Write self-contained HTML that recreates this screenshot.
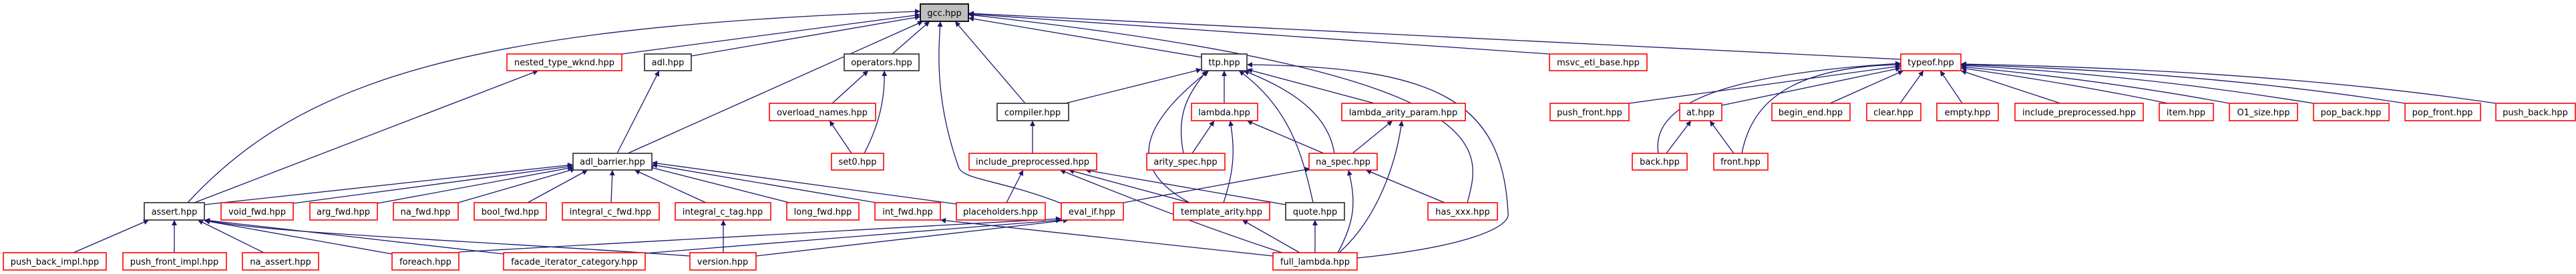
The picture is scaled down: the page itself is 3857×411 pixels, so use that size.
<!DOCTYPE html>
<html><head><meta charset="utf-8"><style>
html,body{margin:0;padding:0;background:#fff;}
svg{display:block;}
text{font-family:"DejaVu Sans","Liberation Sans",sans-serif;font-size:13px;fill:#000;}
.e{fill:none;stroke:#191970;stroke-width:1.3;}
.r{fill:#fff;stroke:#ff0000;stroke-width:1.6;}
.b{fill:#fff;stroke:#404040;stroke-width:1.8;}
</style></head><body>
<svg width="3857" height="411" viewBox="0 0 3857 411" xmlns="http://www.w3.org/2000/svg">
<defs><marker id="a" viewBox="0 0 10 10" refX="10" refY="5" markerWidth="10" markerHeight="8" markerUnits="userSpaceOnUse" orient="auto"><path d="M0,0 L10,5 L0,10 z" fill="#191970"/></marker></defs>
<g marker-end="url(#a)">
<path class="e" d="M281,304 C450,120 700,40 1378,17"/>
<path class="e" d="M291,304 L806,106"/>
<path class="e" d="M931,81 L1378,22"/>
<path class="e" d="M1035,84 L1378,25"/>
<path class="e" d="M940,230 L1382,32"/>
<path class="e" d="M1336,81 L1392,32"/>
<path class="e" d="M1589,305 C1500,270 1440,270 1435,250 C1400,150 1405,80 1408,32"/>
<path class="e" d="M1535,155 L1430,32"/>
<path class="e" d="M1800,86 L1450,27"/>
<path class="e" d="M2320,81 L1450,21"/>
<path class="e" d="M2846,89 L1450,20"/>
<path class="e" d="M2197,304 C2220,220 2250,110 1450,22"/>
<path class="e" d="M2032,387 C2200,370 2262,340 2258,320 C2250,150 2150,100 1867,97"/>
<path class="e" d="M1595,155 L1799,104"/>
<path class="e" d="M1833,155 L1833,106"/>
<path class="e" d="M1772,230 C1760,170 1780,140 1807,106"/>
<path class="e" d="M1781,304 C1700,260 1690,200 1810,106"/>
<path class="e" d="M1966,304 C1950,230 1930,160 1855,106"/>
<path class="e" d="M1998,230 C1990,180 1950,140 1862,106"/>
<path class="e" d="M2058,155 L1867,104"/>
<path class="e" d="M1246,155 L1300,106"/>
<path class="e" d="M1294,230 C1320,180 1325,140 1324,106"/>
<path class="e" d="M1275,230 L1242,181"/>
<path class="e" d="M1546,230 L1546,181"/>
<path class="e" d="M1507,304 L1532,255"/>
<path class="e" d="M1920,379 C1800,340 1700,300 1587,255"/>
<path class="e" d="M1781,304 L1600,255"/>
<path class="e" d="M1925,307 L1625,255"/>
<path class="e" d="M1785,230 L1818,181"/>
<path class="e" d="M1832,304 C1850,250 1848,220 1842,181"/>
<path class="e" d="M1982,230 L1867,181"/>
<path class="e" d="M2025,230 L2085,181"/>
<path class="e" d="M2005,379 C2060,330 2090,250 2099,181"/>
<path class="e" d="M1682,304 L1962,253"/>
<path class="e" d="M2003,379 C2030,330 2030,300 2019,255"/>
<path class="e" d="M2163,304 L2045,255"/>
<path class="e" d="M1946,379 L1860,330"/>
<path class="e" d="M1969,379 L1969,330"/>
<path class="e" d="M1906,384 L1408,330"/>
<path class="e" d="M924,230 L987,106"/>
<path class="e" d="M306,307 L858,247"/>
<path class="e" d="M439,305 L858,249"/>
<path class="e" d="M565,305 L858,251"/>
<path class="e" d="M686,304 L862,253"/>
<path class="e" d="M790,304 L880,255"/>
<path class="e" d="M915,304 L917,255"/>
<path class="e" d="M1057,304 L950,255"/>
<path class="e" d="M1182,304 L970,250"/>
<path class="e" d="M1312,304 L976,247"/>
<path class="e" d="M1432,306 L976,244"/>
<path class="e" d="M110,379 L223,330"/>
<path class="e" d="M261,379 L261,330"/>
<path class="e" d="M395,379 L296,330"/>
<path class="e" d="M587,381 L306,331"/>
<path class="e" d="M754,381 L306,330"/>
<path class="e" d="M1033,384 C700,360 400,350 306,330"/>
<path class="e" d="M687,378 L1589,328"/>
<path class="e" d="M966,380 L1589,330"/>
<path class="e" d="M1132,384 L1600,330"/>
<path class="e" d="M1083,379 L1083,330"/>
<path class="e" d="M2439,155 L2846,99"/>
<path class="e" d="M2578,158 L2846,102"/>
<path class="e" d="M2740,155 L2850,106"/>
<path class="e" d="M2845,155 L2880,106"/>
<path class="e" d="M2938,155 L2905,106"/>
<path class="e" d="M3085,155 L2936,106"/>
<path class="e" d="M3246,155 Q3100,125 2936,102"/>
<path class="e" d="M3338,155 Q3150,120 2936,100"/>
<path class="e" d="M3464,155 Q3200,112 2936,98"/>
<path class="e" d="M3601,155 Q3300,108 2936,97"/>
<path class="e" d="M3737,155 Q3400,105 2936,96"/>
<path class="e" d="M2483,230 C2470,150 2600,110 2846,95"/>
<path class="e" d="M2608,230 C2620,170 2660,100 2846,97"/>
<path class="e" d="M2495,230 L2532,181"/>
<path class="e" d="M2596,230 L2560,181"/>
</g>
<g text-anchor="middle">
<rect x="1378" y="6" width="72" height="26" fill="#bfbfbf" stroke="#000" stroke-width="1.8"/><text x="1414" y="24">gcc.hpp</text>
<rect class="r" x="759" y="81" width="172" height="25"/><text x="845" y="98">nested_type_wknd.hpp</text>
<rect class="b" x="965" y="81" width="70" height="25"/><text x="1000" y="98">adl.hpp</text>
<rect class="b" x="1264" y="81" width="112" height="25"/><text x="1320" y="98">operators.hpp</text>
<rect class="b" x="1799" y="81" width="68" height="25"/><text x="1833" y="98">ttp.hpp</text>
<rect class="r" x="2320" y="81" width="146" height="25"/><text x="2393" y="98">msvc_eti_base.hpp</text>
<rect class="r" x="2846" y="81" width="90" height="25"/><text x="2891" y="98">typeof.hpp</text>
<rect class="r" x="1152" y="155" width="159" height="26"/><text x="1231" y="173">overload_names.hpp</text>
<rect class="b" x="1493" y="155" width="107" height="26"/><text x="1546" y="173">compiler.hpp</text>
<rect class="r" x="1784" y="155" width="99" height="26"/><text x="1833" y="173">lambda.hpp</text>
<rect class="r" x="2009" y="155" width="185" height="26"/><text x="2101" y="173">lambda_arity_param.hpp</text>
<rect class="r" x="2321" y="155" width="118" height="26"/><text x="2380" y="173">push_front.hpp</text>
<rect class="r" x="2515" y="155" width="63" height="26"/><text x="2546" y="173">at.hpp</text>
<rect class="r" x="2653" y="155" width="117" height="26"/><text x="2711" y="173">begin_end.hpp</text>
<rect class="r" x="2795" y="155" width="81" height="26"/><text x="2835" y="173">clear.hpp</text>
<rect class="r" x="2900" y="155" width="92" height="26"/><text x="2946" y="173">empty.hpp</text>
<rect class="r" x="3017" y="155" width="192" height="26"/><text x="3113" y="173">include_preprocessed.hpp</text>
<rect class="r" x="3233" y="155" width="81" height="26"/><text x="3273" y="173">item.hpp</text>
<rect class="r" x="3338" y="155" width="102" height="26"/><text x="3389" y="173">O1_size.hpp</text>
<rect class="r" x="3464" y="155" width="113" height="26"/><text x="3520" y="173">pop_back.hpp</text>
<rect class="r" x="3601" y="155" width="113" height="26"/><text x="3657" y="173">pop_front.hpp</text>
<rect class="r" x="3737" y="155" width="119" height="26"/><text x="3796" y="173">push_back.hpp</text>
<rect class="b" x="858" y="230" width="118" height="25"/><text x="917" y="247">adl_barrier.hpp</text>
<rect class="r" x="1245" y="230" width="78" height="25"/><text x="1284" y="247">set0.hpp</text>
<rect class="r" x="1451" y="230" width="191" height="25"/><text x="1546" y="247">include_preprocessed.hpp</text>
<rect class="r" x="1717" y="230" width="117" height="25"/><text x="1775" y="247">arity_spec.hpp</text>
<rect class="r" x="1960" y="230" width="102" height="25"/><text x="2011" y="247">na_spec.hpp</text>
<rect class="r" x="2444" y="230" width="82" height="25"/><text x="2485" y="247">back.hpp</text>
<rect class="r" x="2566" y="230" width="81" height="25"/><text x="2606" y="247">front.hpp</text>
<rect class="b" x="216" y="304" width="90" height="26"/><text x="261" y="322">assert.hpp</text>
<rect class="r" x="331" y="304" width="108" height="26"/><text x="385" y="322">void_fwd.hpp</text>
<rect class="r" x="464" y="304" width="101" height="26"/><text x="514" y="322">arg_fwd.hpp</text>
<rect class="r" x="589" y="304" width="97" height="26"/><text x="637" y="322">na_fwd.hpp</text>
<rect class="r" x="710" y="304" width="108" height="26"/><text x="764" y="322">bool_fwd.hpp</text>
<rect class="r" x="842" y="304" width="145" height="26"/><text x="914" y="322">integral_c_fwd.hpp</text>
<rect class="r" x="1011" y="304" width="143" height="26"/><text x="1082" y="322">integral_c_tag.hpp</text>
<rect class="r" x="1178" y="304" width="108" height="26"/><text x="1232" y="322">long_fwd.hpp</text>
<rect class="r" x="1310" y="304" width="98" height="26"/><text x="1359" y="322">int_fwd.hpp</text>
<rect class="r" x="1432" y="304" width="133" height="26"/><text x="1498" y="322">placeholders.hpp</text>
<rect class="r" x="1589" y="304" width="93" height="26"/><text x="1635" y="322">eval_if.hpp</text>
<rect class="r" x="1757" y="304" width="144" height="26"/><text x="1829" y="322">template_arity.hpp</text>
<rect class="b" x="1925" y="304" width="88" height="26"/><text x="1969" y="322">quote.hpp</text>
<rect class="r" x="2138" y="304" width="104" height="26"/><text x="2190" y="322">has_xxx.hpp</text>
<rect class="r" x="5" y="379" width="154" height="26"/><text x="82" y="397">push_back_impl.hpp</text>
<rect class="r" x="184" y="379" width="155" height="26"/><text x="261" y="397">push_front_impl.hpp</text>
<rect class="r" x="363" y="379" width="114" height="26"/><text x="420" y="397">na_assert.hpp</text>
<rect class="r" x="587" y="379" width="100" height="26"/><text x="637" y="397">foreach.hpp</text>
<rect class="r" x="754" y="379" width="212" height="26"/><text x="860" y="397">facade_iterator_category.hpp</text>
<rect class="r" x="1033" y="379" width="99" height="26"/><text x="1082" y="397">version.hpp</text>
<rect class="r" x="1906" y="379" width="126" height="26"/><text x="1969" y="397">full_lambda.hpp</text>
</g>
</svg>
</body></html>
